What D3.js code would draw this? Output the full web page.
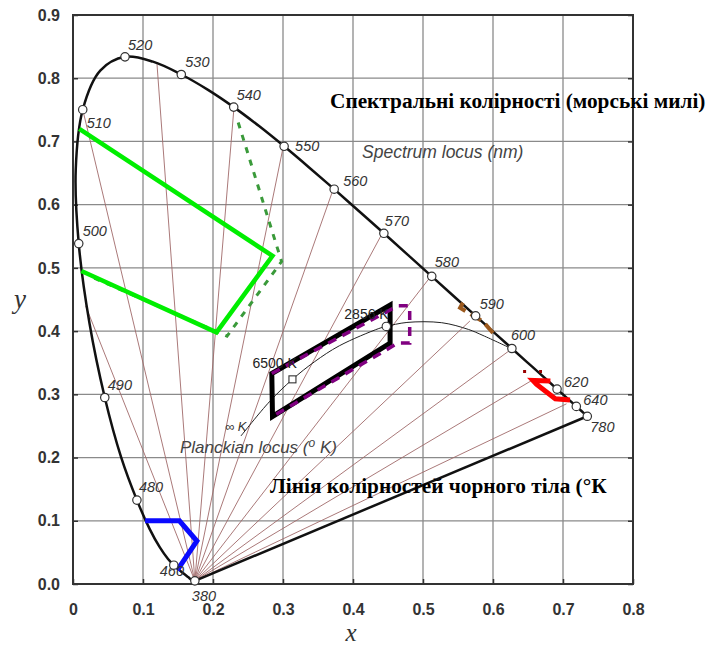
<!DOCTYPE html>
<html>
<head>
<meta charset="utf-8">
<script src="https://cdn.jsdelivr.net/npm/d3@7"></script>
<style>
  html, body { margin: 0; padding: 0; background: #fff; }
  svg { display: block; }
  .tick text { font-family: "Liberation Sans", Arial, sans-serif; font-weight: bold; font-size: 16px; fill: #333; }
</style>
</head>
<body>
<svg id="chart" width="710" height="648"></svg>
<script>
// CIE 1931 spectral locus (wavelength in nm, chromaticity x and y)
const locusNm = [380,420,440,450,460,465,470,475,480,485,490,495,500,505,510,515,520,525,530,535,540,545,550,555,560,565,570,575,580,585,590,595,600,605,610,620,630,640,650,780];
const locusX  = [0.1741,0.1714,0.1644,0.1566,0.1440,0.1355,0.1241,0.1096,0.0913,0.0687,0.0454,0.0235,0.0082,0.0039,0.0139,0.0389,0.0743,0.1142,0.1547,0.1929,0.2296,0.2658,0.3016,0.3373,0.3731,0.4087,0.4441,0.4788,0.5125,0.5448,0.5752,0.6029,0.6270,0.6482,0.6658,0.6915,0.7079,0.7190,0.7260,0.7347];
const locusY  = [0.0050,0.0051,0.0109,0.0177,0.0297,0.0399,0.0578,0.0868,0.1327,0.2007,0.2950,0.4127,0.5384,0.6548,0.7502,0.8120,0.8338,0.8262,0.8059,0.7816,0.7543,0.7243,0.6923,0.6589,0.6245,0.5896,0.5547,0.5202,0.4866,0.4544,0.4242,0.3965,0.3725,0.3514,0.3340,0.3083,0.2920,0.2809,0.2740,0.2653];

// wavelengths marked with a circle and a label
const markedNm = [380,460,480,490,500,510,520,530,540,550,560,570,580,590,600,620,640,780];

// end points of the radial lines that run to the 380 nm corner
const fanX = [0.018,0.014,0.120,0.230,0.300,0.371,0.441,0.510,0.567,0.622,0.657,0.705];
const fanY = [0.440,0.750,0.822,0.754,0.690,0.622,0.553,0.485,0.416,0.368,0.323,0.285];

// Planckian locus, from infinite temperature down to about 1200 K
const planckK = ["∞",10000,6500,5000,4000,3000,2856,2500,2000,1667,1500,1200];
const planckX = [0.2399,0.2807,0.3135,0.3451,0.3805,0.4369,0.4476,0.4770,0.5267,0.5650,0.5857,0.6250];
const planckY = [0.2341,0.2884,0.3237,0.3516,0.3768,0.4041,0.4074,0.4137,0.4133,0.4026,0.3931,0.3730];

// signal-light colour regions
const greenX     = [0.009,0.285,0.205,0.012];
const greenY     = [0.720,0.519,0.398,0.495];
const greenDashX = [0.236,0.298,0.220,0.030];
const greenDashY = [0.730,0.510,0.392,0.484];
const whiteX     = [0.284,0.453,0.453,0.285];
const whiteY     = [0.333,0.441,0.381,0.265];
const whiteDashX = [0.284,0.464,0.481,0.481,0.464,0.285];
const whiteDashY = [0.333,0.440,0.440,0.381,0.381,0.265];
const blueX      = [0.103,0.152,0.177,0.149];
const blueY      = [0.100,0.100,0.068,0.022];
const redX       = [0.682,0.657,0.662,0.689,0.710];
const redY       = [0.321,0.322,0.316,0.293,0.291];
const redDashX   = [0.643,0.670];
const redDashY   = [0.336,0.336];
const yellowX    = [0.557,0.553,0.586,0.600];
const yellowY    = [0.445,0.437,0.415,0.397];

// axis ticks
const xTicks = [0,0.1,0.2,0.3,0.4,0.5,0.6,0.7,0.8];
const xTickLabels = ["0","0.1","0.2","0.3","0.4","0.5","0.6","0.7","0.8"];
const yTicks = [0,0.1,0.2,0.3,0.4,0.5,0.6,0.7,0.8,0.9];
const yTickLabels = ["0.0","0.1","0.2","0.3","0.4","0.5","0.6","0.7","0.8","0.9"];

const svg = d3.select("#chart");
const x = d3.scaleLinear().domain([0, 0.8]).range([73, 633]);
const y = d3.scaleLinear().domain([0, 0.9]).range([584, 15]);

const zip = (xs, ys) => xs.map((v, i) => [v, ys[i]]);
const line = d3.line().x(d => x(d[0])).y(d => y(d[1]));
const smooth = d3.line().x(d => x(d[0])).y(d => y(d[1])).curve(d3.curveCatmullRom.alpha(0.5));

// grid
const grid = svg.append("g");
grid.selectAll("line.gx").data(xTicks.slice(1, -1)).join("line")
  .attr("x1", d => x(d)).attr("x2", d => x(d)).attr("y1", y(0)).attr("y2", y(0.9))
  .attr("stroke", "#8a8a8a").attr("stroke-width", 1.3);
grid.selectAll("line.gy").data(yTicks.slice(1, -1)).join("line")
  .attr("y1", d => y(d)).attr("y2", d => y(d)).attr("x1", x(0)).attr("x2", x(0.8))
  .attr("stroke", "#8a8a8a").attr("stroke-width", 1.3);

// axes
svg.append("g").attr("transform", `translate(0,${y(0)})`)
  .call(d3.axisBottom(x).tickValues(xTicks).tickFormat((d, i) => xTickLabels[i]).tickSizeInner(-5).tickSizeOuter(0).tickPadding(20))
  .call(g => g.select(".domain").remove())
  .call(g => g.selectAll(".tick line").attr("stroke", "#333").attr("stroke-width", 1.5));
svg.append("g").attr("transform", `translate(${x(0)},0)`)
  .call(d3.axisLeft(y).tickValues(yTicks).tickFormat((d, i) => yTickLabels[i]).tickSizeInner(-5).tickSizeOuter(0).tickPadding(13))
  .call(g => g.select(".domain").remove())
  .call(g => g.selectAll(".tick line").attr("stroke", "#333").attr("stroke-width", 1.5));
svg.append("g").attr("transform", `translate(${x(0.8)},0)`)
  .call(d3.axisRight(y).tickValues(yTicks).tickFormat("").tickSizeInner(-5).tickSizeOuter(0))
  .call(g => g.select(".domain").remove())
  .call(g => g.selectAll(".tick line").attr("stroke", "#333").attr("stroke-width", 1.5));

svg.append("rect")
  .attr("x", x(0)).attr("y", y(0.9)).attr("width", x(0.8) - x(0)).attr("height", y(0) - y(0.9))
  .attr("fill", "none").attr("stroke", "#333").attr("stroke-width", 2);

// radial lines from the 380 nm corner
const corner = [locusX[0], locusY[0]];
svg.append("g").selectAll("line").data(zip(fanX, fanY)).join("line")
  .attr("x1", x(corner[0])).attr("y1", y(corner[1]))
  .attr("x2", d => x(d[0])).attr("y2", d => y(d[1]))
  .attr("stroke", "#a06a6a").attr("stroke-width", 0.9);

// Planckian locus
const planck = zip(planckX, planckY);
svg.append("path").attr("d", smooth(planck))
  .attr("fill", "none").attr("stroke", "#222").attr("stroke-width", 1);

// spectral locus and the line of purples
const locus = zip(locusX, locusY);
svg.append("path").attr("d", smooth(locus))
  .attr("fill", "none").attr("stroke", "#111").attr("stroke-width", 2.5);
svg.append("line")
  .attr("x1", x(locusX[0])).attr("y1", y(locusY[0]))
  .attr("x2", x(locusX[locusX.length - 1])).attr("y2", y(locusY[locusY.length - 1]))
  .attr("stroke", "#111").attr("stroke-width", 2.5);

// colour regions
const regions = svg.append("g").attr("fill", "none").attr("stroke-linejoin", "miter");
regions.append("path").attr("d", line(zip(greenDashX, greenDashY)))
  .attr("stroke", "#3a9a3a").attr("stroke-width", 3).attr("stroke-dasharray", "6,7");
regions.append("path").attr("d", line(zip(greenX, greenY)))
  .attr("stroke", "#00ee00").attr("stroke-width", 4.5);
regions.append("path").attr("d", line(zip(whiteX, whiteY)) + "Z")
  .attr("stroke", "#000").attr("stroke-width", 5);
regions.append("path").attr("d", line(zip(whiteDashX, whiteDashY)))
  .attr("stroke", "#800080").attr("stroke-width", 3.5).attr("stroke-dasharray", "9,7");
regions.append("path").attr("d", line(zip(yellowX, yellowY)))
  .attr("stroke", "#9c5a1e").attr("stroke-width", 4).attr("stroke-dasharray", "12,6");
regions.append("path").attr("d", line(zip(redDashX, redDashY)))
  .attr("stroke", "#990000").attr("stroke-width", 3).attr("stroke-dasharray", "3,13");

// spectral wavelength markers and labels
const labelOffset = {380:[-3,20],460:[-14,11],480:[2,-8],490:[3,-7],500:[4,-8],510:[4,18],520:[3,-7],530:[4,-7],540:[3,-7],550:[11,5],560:[9,-3],570:[1,-7],580:[3,-9],590:[4,-7],600:[-1,-8],620:[7,-2],640:[7,-1],780:[3,16]};
const marks = markedNm.map(nm => { const i = locusNm.indexOf(nm); return {nm, x: locusX[i], y: locusY[i]}; });
const markLabels = svg.append("g")
  .attr("font-family", "'Liberation Sans', Arial, sans-serif").attr("font-style", "italic")
  .attr("font-size", 14.5).attr("fill", "#333");
markLabels.selectAll("text").data(marks).join("text")
  .attr("x", d => x(d.x) + labelOffset[d.nm][0]).attr("y", d => y(d.y) + labelOffset[d.nm][1])
  .text(d => d.nm);

// blue and red regions sit on top of the labels beside them
regions.append("path").attr("d", line(zip(blueX, blueY)))
  .attr("stroke", "#0a0aff").attr("stroke-width", 5).attr("stroke-linejoin", "miter").attr("fill", "none");
regions.append("path").attr("d", line(zip(redX, redY)))
  .attr("stroke", "#ff0000").attr("stroke-width", 5).attr("stroke-linejoin", "miter").attr("fill", "none");

svg.append("g").selectAll("circle").data(marks).join("circle")
  .attr("cx", d => x(d.x)).attr("cy", d => y(d.y)).attr("r", 4.2)
  .attr("fill", "#fff").attr("stroke", "#333").attr("stroke-width", 1.2);

// Planckian markers: 6500 K (square) and 2856 K (circle)
const p6500 = planckK.indexOf(6500), p2856 = planckK.indexOf(2856);
svg.append("rect")
  .attr("x", x(planckX[p6500]) - 3.5).attr("y", y(planckY[p6500]) - 3.5).attr("width", 7).attr("height", 7)
  .attr("fill", "#fff").attr("stroke", "#333").attr("stroke-width", 1.1);
svg.append("circle")
  .attr("cx", x(planckX[p2856])).attr("cy", y(planckY[p2856])).attr("r", 4.2)
  .attr("fill", "#fff").attr("stroke", "#333").attr("stroke-width", 1.1);

const sans = "'Liberation Sans', Arial, sans-serif";
const serif = "'Liberation Serif', 'Times New Roman', serif";
svg.append("text").attr("x", x(planckX[p6500]) - 40).attr("y", y(planckY[p6500]) - 11)
  .attr("font-family", sans).attr("font-size", 14).attr("fill", "#222").text("6500 K");
svg.append("text").attr("x", x(planckX[p2856]) - 42).attr("y", y(planckY[p2856]) - 7)
  .attr("font-family", sans).attr("font-size", 14).attr("fill", "#222").text("2856 K");
svg.append("text").attr("x", x(planckX[0]) - 16).attr("y", y(planckY[0]) - 5)
  .attr("font-family", sans).attr("font-style", "italic").attr("font-size", 13).attr("fill", "#333").text("∞ K");

// annotations
svg.append("text").attr("x", 362).attr("y", 158)
  .attr("font-family", sans).attr("font-style", "italic").attr("font-size", 17.5).attr("fill", "#444")
  .text("Spectrum locus (nm)");
const pl = svg.append("text").attr("x", 180).attr("y", 453)
  .attr("font-family", sans).attr("font-style", "italic").attr("font-size", 17).attr("fill", "#444");
pl.append("tspan").text("Planckian locus (");
pl.append("tspan").attr("dy", -6).attr("font-size", 12).text("o");
pl.append("tspan").attr("dy", 6).text(" K)");

svg.append("text").attr("x", 330).attr("y", 108)
  .attr("font-family", serif).attr("font-weight", "bold").attr("font-size", 21.3).attr("fill", "#000")
  .text("Спектральні колірності (морські милі)");
svg.append("text").attr("x", 270).attr("y", 493)
  .attr("font-family", serif).attr("font-weight", "bold").attr("font-size", 21.3).attr("fill", "#000")
  .text("Лінія колірностей чорного тіла (°К");

// axis titles
svg.append("text").attr("x", 351).attr("y", 641).attr("text-anchor", "middle")
  .attr("font-family", serif).attr("font-style", "italic").attr("font-size", 25).attr("fill", "#333").text("x");
svg.append("text").attr("x", 20).attr("y", 308).attr("text-anchor", "middle")
  .attr("font-family", serif).attr("font-style", "italic").attr("font-size", 27).attr("fill", "#333").text("y");
</script>
</body>
</html>
